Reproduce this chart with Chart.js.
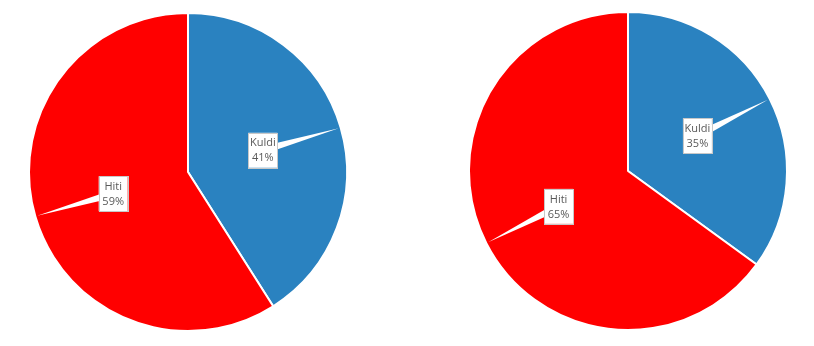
<!DOCTYPE html>
<html>
<head>
<meta charset="utf-8">
<script src="https://cdn.jsdelivr.net/npm/chart.js@4"></script>
<style>
  body { margin: 0; background: #fff; }
  .wrap { position: absolute; top: 0; width: 376px; height: 346px; }
</style>
</head>
<body>
<div class="wrap" style="left:0"><canvas id="pie1"></canvas></div>
<div class="wrap" style="left:440px"><canvas id="pie2"></canvas></div>
<script>
var labels = ['Kuldi', 'Hiti'];
var leftValues = [41, 59];
var rightValues = [35, 65];
var colors = ['#2a82c0', '#ff0000'];

// callout labels: white box at half radius with a wedge pointing to the rim
var calloutPlugin = {
    id: 'callout',
    afterDatasetsDraw: function(chart) {
        var ctx = chart.ctx;
        var meta = chart.getDatasetMeta(0);
        var data = chart.data.datasets[0].data;
        var total = data.reduce(function(a, b) { return a + b; }, 0);
        ctx.save();
        ctx.font = '11px "Open Sans", sans-serif';
        meta.data.forEach(function(arc, i) {
            var mid = (arc.startAngle + arc.endAngle) / 2;
            var r = arc.outerRadius;
            var bx = arc.x + Math.cos(mid) * r * 0.49;
            var by = arc.y + Math.sin(mid) * r * 0.49;
            var tx = arc.x + Math.cos(mid) * (r - 2);
            var ty = arc.y + Math.sin(mid) * (r - 2);
            var px = -Math.sin(mid), py = Math.cos(mid);
            ctx.fillStyle = '#ffffff';
            ctx.beginPath();
            ctx.moveTo(bx + px * 4, by + py * 4);
            ctx.lineTo(tx, ty);
            ctx.lineTo(bx - px * 4, by - py * 4);
            ctx.closePath();
            ctx.fill();
            var w = 29, h = 35;
            ctx.fillRect(bx - w / 2, by - h / 2, w, h);
            ctx.strokeStyle = '#c8c8c8';
            ctx.lineWidth = 1;
            ctx.strokeRect(Math.round(bx - w / 2) + 0.5, Math.round(by - h / 2) + 0.5, w, h);
            ctx.fillStyle = '#595959';
            ctx.textAlign = 'center';
            ctx.textBaseline = 'middle';
            ctx.fillText(chart.data.labels[i], bx, by - 7);
            ctx.fillText(Math.round(data[i] / total * 100) + '%', bx, by + 8);
        });
        ctx.restore();
    }
};

function makePie(id, values, top) {
    return new Chart(document.getElementById(id).getContext('2d'), {
        type: 'pie',
        data: {
            labels: labels,
            datasets: [{
                data: values,
                backgroundColor: colors,
                borderColor: '#ffffff',
                borderWidth: 2
            }]
        },
        options: {
            responsive: true,
            maintainAspectRatio: false,
            animation: false,
            layout: { padding: { top: top, bottom: 26 - top } },
            plugins: {
                legend: { display: false },
                tooltip: { enabled: false }
            }
        },
        plugins: [calloutPlugin]
    });
}

makePie('pie1', leftValues, 12);
makePie('pie2', rightValues, 11);
</script>
</body>
</html>
